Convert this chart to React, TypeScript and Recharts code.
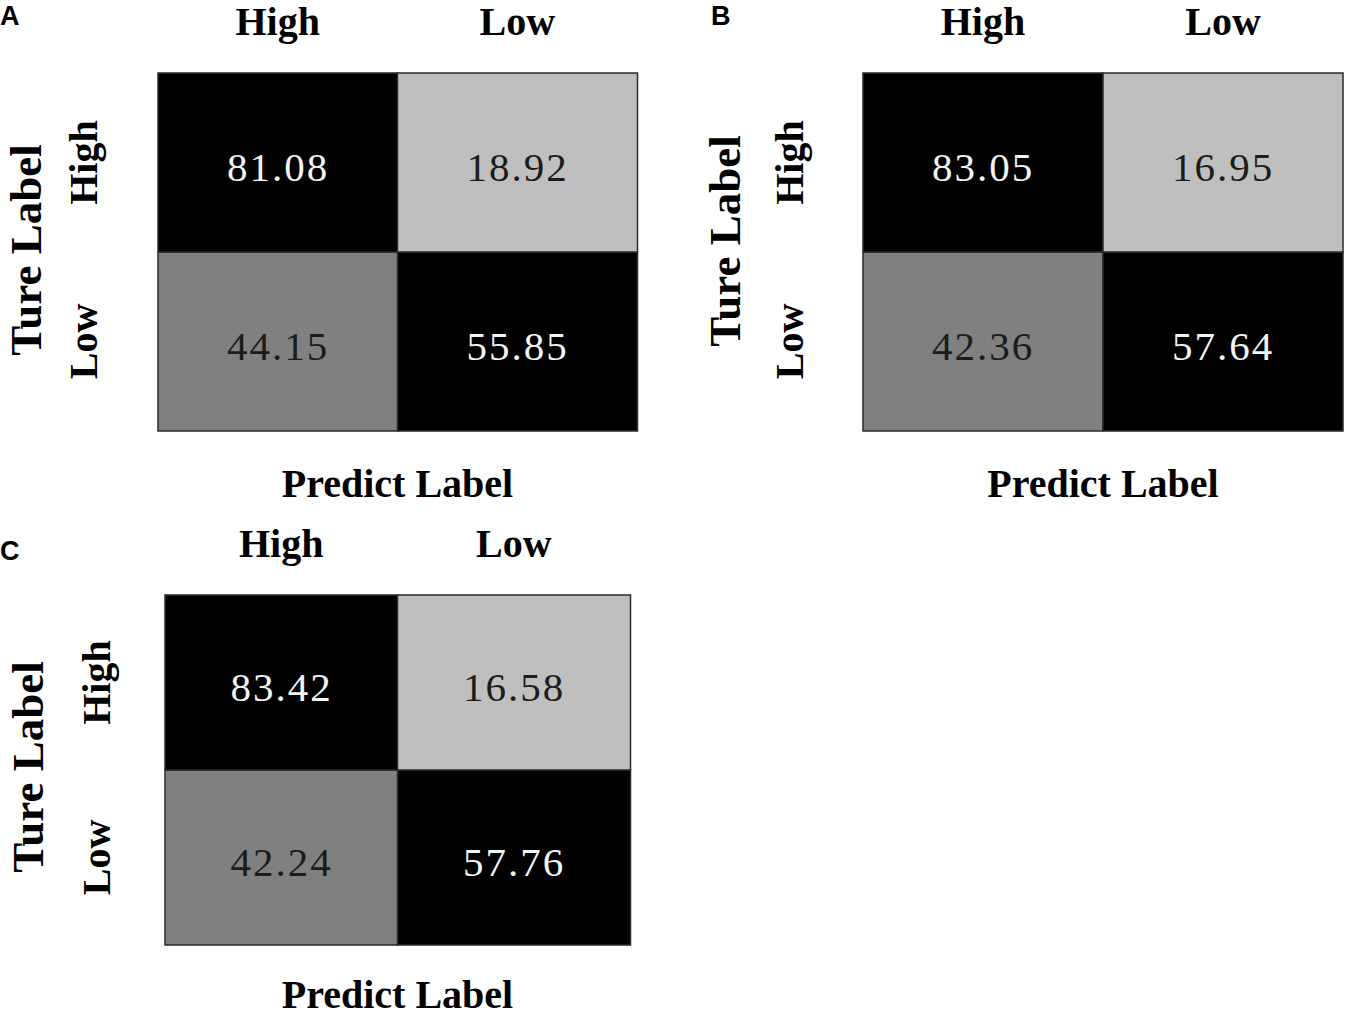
import React from "react";
import { BarChart, Bar, XAxis, YAxis, Cell, LabelList } from "recharts";

// ---- data ----
const predictLabels = ["High", "Low"];
const trueLabels = ["High", "Low"];
const panelLetters = ["A", "B", "C"];

// values per predicted column (High, Low) for each true-label row
const aTrueHigh = [81.08, 18.92];
const aTrueLow = [44.15, 55.85];
const bTrueHigh = [83.05, 16.95];
const bTrueLow = [42.36, 57.64];
const cTrueHigh = [83.42, 16.58];
const cTrueLow = [42.24, 57.76];

const buildRows = (high: number[], low: number[]) =>
  predictLabels.map((p, i) => ({ pred: p, trueHigh: high[i], trueLow: low[i] }));

const dataA = buildRows(aTrueHigh, aTrueLow);
const dataB = buildRows(bTrueHigh, bTrueLow);
const dataC = buildRows(cTrueHigh, cTrueLow);

// ---- style helpers ----
const SERIF = "'Liberation Serif', 'Times New Roman', serif";
const shade = (v: number) => (v >= 50 ? "#000000" : v >= 30 ? "#808080" : "#bfbfbf");
const ink = (v: number) => (v >= 50 ? "#f4f4f4" : "#1c1c1c");
const unitSpan = () => 1;

type PanelCfg = {
  letter: string;
  data: { pred: string; trueHigh: number; trueLow: number }[];
  left: number;
  top: number;
  width: number;
  height: number;
  yAxisWidth: number;
  rightMargin: number;
  topHeight: number;
  bottomHeight: number;
  colOffset: number;
  rowOffset: number;
  tureOffset: number;
  tureShift: number;
  predictOffset: number;
  letterLeft: number;
  letterTop: number;
};

const panels: PanelCfg[] = [
  {
    letter: panelLetters[0], data: dataA, left: 0, top: 0, width: 660, height: 520,
    yAxisWidth: 158, rightMargin: 23, topHeight: 73, bottomHeight: 89,
    colOffset: 38, rowOffset: 61, tureOffset: 117, tureShift: -2, predictOffset: 66,
    letterLeft: 0, letterTop: 1,
  },
  {
    letter: panelLetters[1], data: dataB, left: 690, top: 0, width: 660, height: 520,
    yAxisWidth: 173, rightMargin: 7, topHeight: 73, bottomHeight: 89,
    colOffset: 38, rowOffset: 60, tureOffset: 123, tureShift: -11, predictOffset: 66,
    letterLeft: 711, letterTop: 1,
  },
  {
    letter: panelLetters[2], data: dataC, left: 0, top: 522, width: 660, height: 494,
    yAxisWidth: 165, rightMargin: 30, topHeight: 73, bottomHeight: 71,
    colOffset: 38, rowOffset: 55, tureOffset: 122, tureShift: -3, predictOffset: 63,
    letterLeft: 0, letterTop: 536,
  },
];

const ColTick = (props: any) => (
  <text x={props.x} y={props.y} textAnchor="middle" fontFamily={SERIF} fontWeight="bold" fontSize={40} fill="#000">
    {props.payload.value}
  </text>
);

const RowTick = (props: any) => {
  const idx = props.payload.value > trueLabels.length / 2 ? 0 : 1;
  return (
    <text
      x={props.x}
      y={props.y}
      transform={`rotate(-90, ${props.x}, ${props.y})`}
      textAnchor="middle"
      fontFamily={SERIF}
      fontWeight="bold"
      fontSize={40}
      fill="#000"
    >
      {trueLabels[idx]}
    </text>
  );
};

const makeValueLabel = () => (props: any) => {
  const vb = props.viewBox && props.viewBox.width !== undefined ? props.viewBox : props;
  const { x, y, width, height } = vb;
  const v = Number(props.value);
  const cx = x + width / 2;
  const cy = y + height / 2;
  return (
    <text x={cx} y={cy + 18} textAnchor="middle" fontFamily={SERIF} fontSize={41} letterSpacing={2} fill={ink(v)}>
      {v.toFixed(2)}
    </text>
  );
};

const Panel = ({ cfg }: { cfg: PanelCfg }) => {
  const rowTicks = trueLabels.map((_, i) => trueLabels.length - i - 0.5);
  const TureLabel = (p: any) => {
    const vb = p.viewBox;
    const bx = vb.x + vb.width - cfg.tureOffset;
    const cy = vb.y + vb.height / 2 + cfg.tureShift;
    return (
      <text x={bx} y={cy} transform={`rotate(-90, ${bx}, ${cy})`} textAnchor="middle" fontFamily={SERIF} fontWeight="bold" fontSize={45} fill="#000">
        Ture Label
      </text>
    );
  };
  const PredictLabel = (p: any) => {
    const vb = p.viewBox;
    return (
      <text x={vb.x + vb.width / 2} y={vb.y + cfg.predictOffset} textAnchor="middle" fontFamily={SERIF} fontWeight="bold" fontSize={40} fill="#000">
        Predict Label
      </text>
    );
  };
  return (
    <div style={{ position: "absolute", left: cfg.left, top: cfg.top, width: cfg.width, height: cfg.height }}>
      <BarChart
        width={cfg.width}
        height={cfg.height}
        data={cfg.data}
        margin={{ top: 0, right: cfg.rightMargin, bottom: 0, left: 0 }}
        barCategoryGap={0}
        barGap={0}
        style={{ overflow: "visible" }}
      >
        <XAxis
          xAxisId="top"
          dataKey="pred"
          orientation="top"
          height={cfg.topHeight}
          axisLine={false}
          tickLine={false}
          tickSize={0}
          tickMargin={cfg.colOffset}
          tick={<ColTick />}
          interval={0}
        />
        <XAxis
          xAxisId="bottom"
          dataKey="pred"
          orientation="bottom"
          height={cfg.bottomHeight}
          axisLine={false}
          tickLine={false}
          tick={false}
          label={{ content: PredictLabel }}
        />
        <YAxis
          yAxisId="rows"
          type="number"
          domain={[0, trueLabels.length]}
          ticks={rowTicks}
          width={cfg.yAxisWidth}
          axisLine={false}
          tickLine={false}
          tickSize={0}
          tickMargin={cfg.rowOffset}
          tick={<RowTick />}
          interval={0}
          label={{ content: TureLabel }}
        />
        <Bar dataKey={unitSpan} stackId="m" xAxisId="top" yAxisId="rows" isAnimationActive={false}>
          {cfg.data.map((d, i) => (
            <Cell key={`l${i}`} fill={shade(d.trueLow)} stroke="#2b2b2b" strokeWidth={1.5} />
          ))}
          <LabelList dataKey="trueLow" content={makeValueLabel()} />
        </Bar>
        <Bar dataKey={() => 1} stackId="m" xAxisId="top" yAxisId="rows" isAnimationActive={false}>
          {cfg.data.map((d, i) => (
            <Cell key={`h${i}`} fill={shade(d.trueHigh)} stroke="#2b2b2b" strokeWidth={1.5} />
          ))}
          <LabelList dataKey="trueHigh" content={makeValueLabel()} />
        </Bar>
      </BarChart>
    </div>
  );
}

export default function App() {
  return (
    <div style={{ position: "absolute", left: 0, top: 0, width: 1350, height: 1016, background: "#fff", overflow: "hidden" }}>
      {panels.map((cfg) => (
        <Panel key={cfg.letter} cfg={cfg} />
      ))}
      {panels.map((cfg) => (
        <div
          key={`t${cfg.letter}`}
          style={{
            position: "absolute",
            left: cfg.letterLeft,
            top: cfg.letterTop,
            fontFamily: "'Liberation Sans', Arial, sans-serif",
            fontWeight: "bold",
            fontSize: 27,
            lineHeight: "normal",
            color: "#000",
          }}
        >
          {cfg.letter}
        </div>
      ))}
    </div>
  );
}
